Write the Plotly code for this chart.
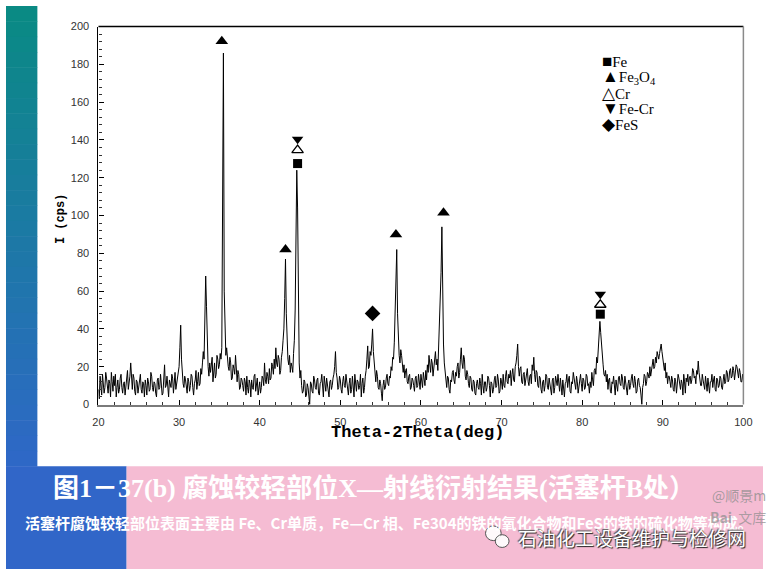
import plotly.graph_objects as go

# ---------------- data ----------------
theta_start = 20.0
theta_step = 0.1
# intensity (cps), 0.1 deg steps from 20.0 to 100.0 (one row = one degree)
intensity = [
    8, 3, 15, 10, 5, 16, 12, 6, 9, 17,          # 20
    14, 9, 6, 13, 11, 4, 17, 12, 7, 15,         # 21
    10, 16, 4, 9, 13, 6, 8, 14, 16, 9,          # 22
    6, 11, 12, 5, 9, 14, 18, 8, 11, 15,         # 23
    22, 12, 8, 16, 14, 7, 5, 13, 12, 6,         # 24
    9, 14, 16, 8, 6, 12, 11, 4, 13, 10,         # 25
    5, 14, 12, 7, 8, 17, 15, 9, 7, 12,          # 26
    11, 6, 4, 13, 14, 8, 9, 16, 12, 5,          # 27
    6, 12, 21, 9, 10, 15, 7, 4, 13, 11,         # 28
    9, 16, 14, 6, 12, 17, 8, 11, 14, 18,        # 29
    20, 30, 42, 24, 16, 11, 9, 15, 13, 7,       # 30
    6, 14, 12, 7, 10, 16, 15, 9, 5, 11,         # 31
    13, 18, 8, 12, 17, 10, 11, 19, 16, 22,      # 32
    28, 24, 40, 68, 52, 26, 20, 15, 22, 17,     # 33
    20, 25, 12, 18, 22, 14, 16, 26, 24, 19,     # 34
    21, 27, 24, 30, 132, 186, 60, 34, 26, 30,   # 35
    24, 20, 18, 25, 22, 13, 14, 21, 19, 16,     # 36
    26, 15, 12, 18, 16, 8, 9, 14, 13, 10,       # 37
    7, 14, 12, 5, 15, 9, 6, 13, 11, 4,          # 38
    13, 9, 8, 15, 16, 7, 10, 14, 5, 11,         # 39
    12, 6, 9, 15, 14, 10, 22, 13, 11, 17,       # 40
    15, 11, 19, 13, 14, 22, 20, 16, 24, 19,     # 41
    30, 22, 20, 26, 24, 16, 18, 25, 28, 34,     # 42
    40, 56, 77, 48, 30, 24, 21, 26, 17, 22,     # 43
    20, 17, 27, 34, 50, 85, 124, 104, 40, 22,   # 44
    14, 18, 10, 6, 7, 13, 12, 4, 5, 11,         # 45
    9, 4, 0, 12, 11, 7, 6, 15, 13, 9,           # 46
    8, 13, 14, 6, 5, 11, 12, 16, 9, 4,          # 47
    15, 10, 7, 14, 11, 6, 4, 12, 13, 8,         # 48
    10, 14, 16, 20, 28, 17, 14, 8, 9, 15,       # 49
    13, 8, 6, 12, 15, 10, 9, 16, 12, 7,         # 50
    5, 11, 14, 6, 8, 15, 11, 4, 16, 10,         # 51
    7, 13, 12, 8, 10, 16, 4, 11, 14, 6,         # 52
    9, 15, 18, 24, 31, 19, 20, 28, 26, 32,      # 53
    40, 28, 22, 16, 12, 18, 15, 9, 8, 13,       # 54
    11, 6, 2, 10, 13, 8, 9, 14, 16, 11,         # 55
    10, 15, 14, 20, 18, 25, 24, 33, 50, 60,     # 56
    82, 48, 30, 26, 22, 29, 26, 19, 17, 21,     # 57
    14, 18, 19, 12, 11, 15, 16, 8, 9, 14,       # 58
    13, 10, 7, 14, 15, 9, 10, 16, 12, 8,        # 59
    16, 12, 9, 17, 14, 10, 18, 13, 21, 17,      # 60
    26, 20, 17, 24, 22, 15, 19, 23, 28, 21,     # 61
    24, 18, 30, 36, 52, 70, 94, 50, 32, 22,     # 62
    16, 11, 9, 15, 14, 8, 6, 13, 12, 17,        # 63
    18, 13, 11, 17, 15, 20, 22, 14, 17, 24,     # 64
    30, 22, 19, 26, 24, 15, 13, 18, 16, 11,     # 65
    9, 15, 14, 8, 7, 13, 12, 6, 5, 11,          # 66
    13, 9, 8, 14, 11, 5, 16, 10, 6, 12,         # 67
    12, 7, 9, 15, 14, 10, 4, 12, 11, 6,         # 68
    8, 13, 15, 9, 10, 16, 13, 6, 7, 14,         # 69
    12, 8, 16, 10, 9, 15, 18, 12, 11, 16,       # 70
    14, 18, 10, 16, 19, 13, 12, 20, 22, 26,     # 71
    32, 20, 15, 19, 20, 12, 11, 16, 17, 10,     # 72
    13, 17, 19, 12, 10, 15, 16, 11, 21, 18,     # 73
    25, 16, 12, 18, 17, 10, 9, 15, 14, 8,       # 74
    6, 12, 13, 7, 10, 16, 15, 9, 8, 14,         # 75
    11, 8, 5, 13, 14, 6, 9, 15, 12, 10,         # 76
    16, 11, 7, 14, 10, 5, 13, 9, 4, 11,         # 77
    12, 16, 9, 13, 15, 7, 6, 12, 11, 17,        # 78
    14, 9, 8, 15, 12, 6, 10, 14, 16, 11,        # 79
    7, 14, 13, 8, 9, 16, 15, 10, 11, 6,         # 80
    12, 9, 17, 13, 10, 18, 19, 16, 25, 22,      # 81
    28, 36, 44, 38, 30, 26, 21, 16, 15, 18,     # 82
    12, 16, 8, 13, 14, 7, 6, 12, 11, 15,        # 83
    9, 5, 13, 8, 7, 14, 15, 11, 10, 16,         # 84
    14, 9, 8, 15, 12, 7, 5, 11, 13, 8,          # 85
    10, 14, 16, 11, 9, 15, 12, 6, 7, 13,        # 86
    14, 10, 9, 5, 0, 9, 11, 16, 15, 10,         # 87
    12, 17, 16, 14, 20, 15, 18, 22, 24, 19,     # 88
    20, 25, 22, 28, 26, 24, 27, 30, 32, 28,     # 89
    24, 20, 18, 22, 14, 17, 11, 15, 15, 12,     # 90
    9, 15, 13, 8, 7, 14, 12, 6, 10, 16,         # 91
    14, 10, 8, 13, 11, 5, 16, 12, 6, 14,        # 92
    12, 16, 10, 14, 15, 11, 13, 19, 18, 14,     # 93
    15, 11, 18, 16, 23, 17, 14, 10, 10, 16,     # 94
    13, 9, 8, 15, 11, 7, 14, 10, 6, 12,         # 95
    12, 16, 9, 13, 15, 8, 7, 14, 13, 9,         # 96
    10, 15, 14, 9, 8, 13, 16, 11, 12, 18,       # 97
    17, 12, 13, 18, 19, 14, 15, 20, 18, 13,     # 98
    16, 21, 20, 15, 14, 19, 17, 12, 12, 16,     # 99
    13,                                         # 100
]
two_theta = [round(theta_start + theta_step * i, 2) for i in range(len(intensity))]

# phase markers above peaks
fe_x = [44.7, 82.25]
fe_y = [127.5, 47.8]
fe3o4_x = [35.3, 43.2, 56.9, 62.8]
fe3o4_y = [192.2, 82.0, 90.0, 101.5]
cr_x = [44.7, 82.25]
cr_y = [134.6, 52.8]
fecr_x = [44.7, 82.25]
fecr_y = [140.4, 58.4]
fes_x = [54.0]
fes_y = [48.2]

x_ticks = [20, 30, 40, 50, 60, 70, 80, 90, 100]
y_ticks = [0, 20, 40, 60, 80, 100, 120, 140, 160, 180, 200]

legend_symbols = ["■", "▲", "△", "▼", "◆"]
legend_names = ["Fe", "Fe<sub>3</sub>O<sub>4</sub>", "Cr", "Fe-Cr", "FeS"]

title_text = "图1－37(b) 腐蚀较轻部位X—射线衍射结果(活塞杆B处）"
caption_text = "活塞杆腐蚀较轻部位表面主要由 Fe、Cr单质，Fe—Cr 相、Fe304的铁的氧化合物和FeS的铁的硫化物等构成。"
brand_text = "石油化工设备维护与检修网"

# ---------------- figure ----------------
W, H = 772, 575


def px(x):
    return x / W


def py(y):
    return 1 - y / H


fig = go.Figure()
fig.add_trace(go.Scatter(x=two_theta, y=intensity, mode="lines",
                         line=dict(color="black", width=1), showlegend=False,
                         hoverinfo="skip"))

mk = dict(color="black")
fig.add_trace(go.Scatter(x=fe3o4_x, y=fe3o4_y, mode="markers", showlegend=False,
                         marker=dict(symbol="triangle-up", size=11, **mk), cliponaxis=False))
fig.add_trace(go.Scatter(x=fe_x, y=fe_y, mode="markers", showlegend=False,
                         marker=dict(symbol="square", size=9, **mk), cliponaxis=False))
fig.add_trace(go.Scatter(x=cr_x, y=cr_y, mode="markers", showlegend=False,
                         marker=dict(symbol="triangle-up-open", size=10, color="black",
                                     line=dict(width=1.3, color="black")), cliponaxis=False))
fig.add_trace(go.Scatter(x=fecr_x, y=fecr_y, mode="markers", showlegend=False,
                         marker=dict(symbol="triangle-down", size=10, **mk), cliponaxis=False))
fig.add_trace(go.Scatter(x=fes_x, y=fes_y, mode="markers", showlegend=False,
                         marker=dict(symbol="diamond", size=12, **mk), cliponaxis=False))

shapes = []
# left gradient strip (teal -> blue)
top_c = (10, 138, 132)
bot_c = (46, 104, 198)
n = 30
for i in range(n):
    t = i / (n - 1)
    c = tuple(int(round(top_c[k] + (bot_c[k] - top_c[k]) * t)) for k in range(3))
    y0 = 470 * i / n
    y1 = 470 * (i + 1) / n + 0.5
    shapes.append(dict(type="rect", xref="paper", yref="paper", layer="below",
                       x0=px(0), x1=px(32), y0=py(y1), y1=py(y0),
                       fillcolor="rgb(%d,%d,%d)" % c, line=dict(width=0)))
shapes.append(dict(type="rect", xref="paper", yref="paper", layer="below",
                   x0=px(0), x1=px(123), y0=py(575), y1=py(470),
                   fillcolor="#3166c8", line=dict(width=0)))
shapes.append(dict(type="rect", xref="paper", yref="paper", layer="below",
                   x0=px(123), x1=px(772), y0=py(575), y1=py(470),
                   fillcolor="#f5bcd3", line=dict(width=0)))
# frame: top black, right gray
shapes.append(dict(type="line", xref="x domain", yref="y domain", x0=0, x1=1, y0=1, y1=1,
                   line=dict(color="black", width=1.5)))
shapes.append(dict(type="line", xref="x domain", yref="y domain", x0=1, x1=1, y0=0, y1=1,
                   line=dict(color="#8a8a8a", width=1.5)))
# wechat-like bubbles
shapes.append(dict(type="circle", xref="paper", yref="paper",
                   x0=px(489), x1=px(505), y0=py(546), y1=py(531),
                   fillcolor="rgba(255,255,255,0.9)", line=dict(color="#555", width=1)))
shapes.append(dict(type="circle", xref="paper", yref="paper",
                   x0=px(499), x1=px(513), y0=py(553), y1=py(540),
                   fillcolor="rgba(255,255,255,0.9)", line=dict(color="#555", width=1)))

annotations = []
# axis titles
annotations.append(dict(text="I (cps)", x=px(47), y=py(190), xref="paper", yref="paper",
                        textangle=-90, showarrow=False,
                        font=dict(family="Liberation Mono", size=12, color="black", weight="bold")))
annotations.append(dict(text="Theta-2Theta(deg)", x=px(420), y=py(447), xref="paper", yref="paper",
                        showarrow=False,
                        font=dict(family="Liberation Mono", size=17, color="black", weight="bold")))
# legend (symbol + name)
leg_y = [57, 73, 89, 105, 121]
for sym, name, yy in zip(legend_symbols, legend_names, leg_y):
    annotations.append(dict(text="<span style='font-size:17px'>%s</span>%s" % (sym, name),
                            x=px(606), y=py(yy), xref="paper", yref="paper",
                            xanchor="left", yanchor="middle", showarrow=False,
                            font=dict(family="Liberation Serif, DejaVu Serif", size=15, color="black")))
# bottom texts
annotations.append(dict(text=title_text, x=px(46), y=py(492), xref="paper", yref="paper",
                        xanchor="left", yanchor="middle", showarrow=False,
                        font=dict(family="Liberation Serif, Noto Sans CJK SC", size=26,
                                  color="white", weight="bold")))
annotations.append(dict(text=caption_text, x=px(17), y=py(528), xref="paper", yref="paper",
                        xanchor="left", yanchor="middle", showarrow=False,
                        font=dict(family="Noto Sans CJK SC", size=15, color="white", weight="bold")))
annotations.append(dict(text="@顺景m", x=px(718), y=py(499), xref="paper", yref="paper",
                        xanchor="left", yanchor="middle", showarrow=False,
                        font=dict(family="Noto Sans CJK SC", size=14, color="rgba(140,140,140,0.75)")))
annotations.append(dict(text="<b>Bai</b>  文库", x=px(716), y=py(522), xref="paper", yref="paper",
                        xanchor="left", yanchor="middle", showarrow=False,
                        font=dict(family="Noto Sans CJK SC", size=14, color="rgba(140,140,140,0.7)")))
annotations.append(dict(text=brand_text, x=px(520), y=py(543), xref="paper", yref="paper",
                        xanchor="left", yanchor="middle", showarrow=False,
                        font=dict(family="Noto Sans CJK SC", size=19, color="white",
                                  shadow="1px 1px 1px #222, -1px -1px 1px #555")))

fig.update_layout(
    width=W, height=H, autosize=False,
    margin=dict(l=0, r=0, t=0, b=0, pad=0),
    paper_bgcolor="white", plot_bgcolor="white",
    showlegend=False,
    shapes=shapes, annotations=annotations,
    xaxis=dict(domain=[px(94.3), px(752)], range=[20, 100], tickvals=x_ticks,
               showgrid=False, zeroline=False,
               showline=True, linecolor="#7a7a7a", linewidth=2,
               ticks="inside", ticklen=5, tickcolor="black", ticklabelstandoff=6,
               minor=dict(dtick=2, ticks="inside", ticklen=3, tickcolor="#333"),
               tickfont=dict(family="Liberation Sans", size=11, color="#333")),
    yaxis=dict(domain=[py(407), py(21)], range=[0, 200], tickvals=y_ticks,
               showgrid=False, zeroline=False,
               showline=True, linecolor="black", linewidth=1.2,
               ticks="inside", ticklen=5, tickcolor="black", ticklabelstandoff=6,
               minor=dict(dtick=4, ticks="inside", ticklen=3, tickcolor="#333"),
               tickfont=dict(family="Liberation Sans", size=11, color="#333")),
)

# remove the default page margin so the figure sits at the window's top-left corner
page_fix = ("document.body.style.margin='0';document.body.style.padding='0';"
            "document.body.style.overflow='hidden';")

fig.write_html("out.html", config={"responsive": False, "displayModeBar": False},
               post_script=page_fix)
